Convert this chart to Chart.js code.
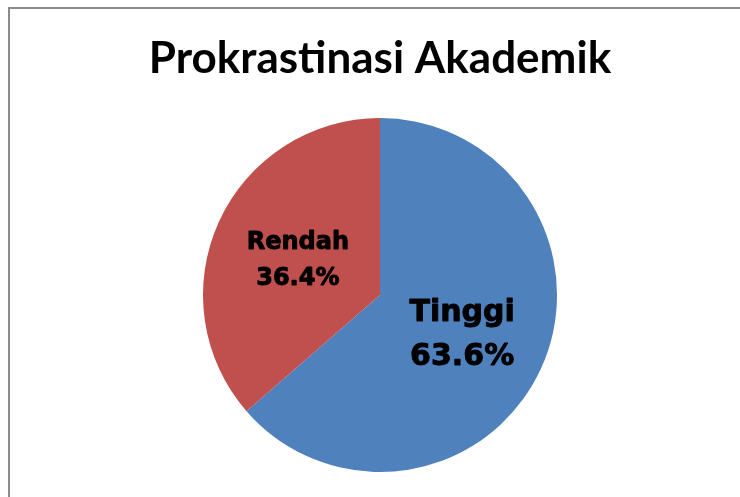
<!DOCTYPE html>
<html>
<head>
<meta charset="utf-8">
<script src="https://cdn.jsdelivr.net/npm/chart.js@4"></script>
<style>
html,body{margin:0;padding:0;background:#fff;}
#wrap{width:740px;height:497px;position:relative;}
</style>
</head>
<body>
<div id="wrap"><canvas id="c" width="740" height="497"></canvas></div>
<script>
const chartTitle = "Prokrastinasi Akademik";
const categories = ["Tinggi", "Rendah"];
const values = [63.6, 36.4];
const valueLabels = ["63.6%", "36.4%"];
const sliceColors = ["#4F81BD", "#C0504D"];
const labelSizes = [30, 24];

const framePlugin = {
  id: 'frame',
  beforeDraw(chart) {
    const ctx = chart.ctx;
    ctx.save();
    ctx.fillStyle = '#fff';
    ctx.fillRect(0, 0, chart.width, chart.height);
    ctx.strokeStyle = '#8c8c8c';
    ctx.lineWidth = 2;
    ctx.strokeRect(9, 8, chart.width + 20, chart.height + 20);
    ctx.restore();
  }
};

const sliceLabelPlugin = {
  id: 'sliceLabels',
  afterDatasetsDraw(chart) {
    const ctx = chart.ctx;
    const meta = chart.getDatasetMeta(0);
    meta.data.forEach((arc, i) => {
      const p = arc.getProps(['x', 'y', 'startAngle', 'endAngle', 'outerRadius'], true);
      const mid = (p.startAngle + p.endAngle) / 2;
      const d = p.outerRadius * 0.51;
      const cx = p.x + Math.cos(mid) * d;
      const cy = p.y + Math.sin(mid) * d + 3;
      const fs = labelSizes[i];
      ctx.save();
      ctx.font = 'bold ' + fs + 'px "DejaVu Sans", Verdana, sans-serif';
      ctx.textAlign = 'center';
      ctx.textBaseline = 'middle';
      ctx.fillStyle = '#000';
      ctx.strokeStyle = '#000';
      ctx.lineWidth = 0.9;
      ctx.lineJoin = 'round';
      const gap = fs * 0.74;
      ctx.fillText(categories[i], cx, cy - gap);
      ctx.strokeText(categories[i], cx, cy - gap);
      ctx.fillText(valueLabels[i], cx, cy + gap);
      ctx.strokeText(valueLabels[i], cx, cy + gap);
      ctx.restore();
    });
  }
};

new Chart(document.getElementById('c'), {
  type: 'pie',
  data: {
    labels: categories,
    datasets: [{
      data: values,
      backgroundColor: sliceColors,
      borderWidth: 0
    }]
  },
  options: {
    responsive: false,
    animation: false,
    layout: { padding: { left: 20, right: 0, top: 0, bottom: 25 } },
    plugins: {
      legend: { display: false },
      tooltip: { enabled: false },
      title: {
        display: true,
        text: chartTitle,
        color: '#000',
        font: { family: 'Lato, "Open Sans", sans-serif', size: 44, weight: 'bold', lineHeight: 1.2 },
        padding: { top: 32.6, bottom: 32.6 }
      }
    }
  },
  plugins: [framePlugin, sliceLabelPlugin]
});
</script>
</body>
</html>
